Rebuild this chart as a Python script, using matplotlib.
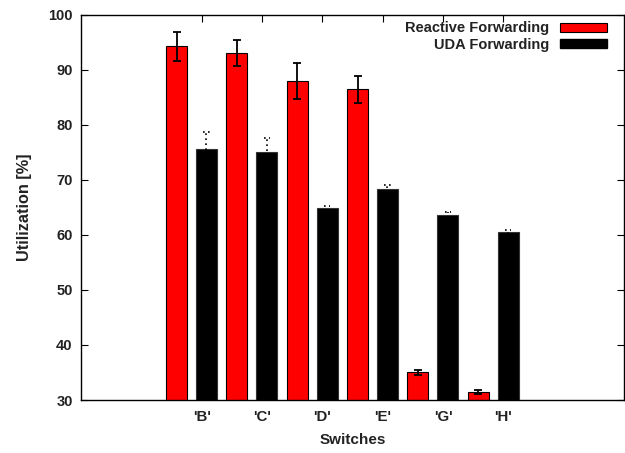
import matplotlib
matplotlib.use("Agg")
import matplotlib.pyplot as plt
from matplotlib.patches import Patch
import numpy as np

plt.rcParams['font.family'] = ['Liberation Sans', 'DejaVu Sans']

categories = ["'B'", "'C'", "'D'", "'E'", "'G'", "'H'"]
reactive = [94.2, 93.0, 87.9, 86.4, 35.0, 31.5]
reactive_err = [2.6, 2.4, 3.3, 2.4, 0.5, 0.35]
uda = [75.6, 75.0, 64.8, 68.3, 63.6, 60.5]
uda_err = [3.0, 2.5, 0.4, 0.8, 0.5, 0.3]
series_names = ["Reactive Forwarding", "UDA Forwarding"]

W, H = 625, 453
fig = plt.figure(figsize=(W / 100, H / 100), dpi=100)
ax = fig.add_axes([81 / W, (H - 400) / H, (624 - 81) / W, (400 - 14.5) / H])

x = np.arange(len(categories))
bw = 0.35
off_r, off_u = -0.417, 0.08

ax.bar(x + off_r, reactive, width=bw, color='#ff0000', edgecolor='black', linewidth=0.8, zorder=2)
ax.errorbar(x + off_r, reactive, yerr=reactive_err, fmt='none', ecolor='black', elinewidth=1.3,
            capsize=2.6, capthick=1.3, zorder=3)
ax.bar(x + off_u, uda, width=bw, color='black', edgecolor='#333333', linewidth=0.8, zorder=2)
ua = np.array(uda)
ue = np.array(uda_err)
ax.vlines(x + off_u, ua - ue, ua + ue, colors='black', linestyles=(0, (1, 2)), linewidth=1.2, zorder=3)
ax.hlines(ua + ue, x + off_u - 0.05, x + off_u + 0.05, colors='black', linestyles=(0, (1, 2)),
          linewidth=1.2, zorder=3)

ax.set_xlim(-2, 7)
ax.set_ylim(30, 100)
ax.set_yticks(np.arange(30, 101, 10))
ax.set_xticks(x)
ax.set_xticklabels(categories, fontsize=10.8, fontweight='bold', color='#222222')
for lab in ax.get_yticklabels():
    lab.set_fontsize(10.5)
    lab.set_fontweight('bold')
    lab.set_color('#222222')

ax.tick_params(axis='x', bottom=False, top=True, direction='in', length=5, pad=7, labelbottom=True)
ax.tick_params(axis='y', left=True, right=True, direction='in', length=5, pad=6)
for s in ax.spines.values():
    s.set_linewidth(1.0)

ax.set_xlabel("Switches", fontsize=11, fontweight='bold', color='#222222', labelpad=7)
ax.set_ylabel("Utilization [%]", fontsize=11.7, fontweight='bold', color='#222222', labelpad=12)

handles = [Patch(facecolor='#ff0000', edgecolor='black', linewidth=0.8),
           Patch(facecolor='black', edgecolor='black')]
leg = ax.legend(handles, series_names, loc='upper right', bbox_to_anchor=(0.985, 1.005),
                frameon=False, markerfirst=False, prop={'weight': 'bold', 'size': 10.5},
                handlelength=3.2, handleheight=0.6, handletextpad=0.8, labelspacing=0.15,
                borderaxespad=0.2)
for t in leg.get_texts():
    t.set_ha('right')
    t.set_color('#222222')

fig.savefig("out.png", dpi=100)
